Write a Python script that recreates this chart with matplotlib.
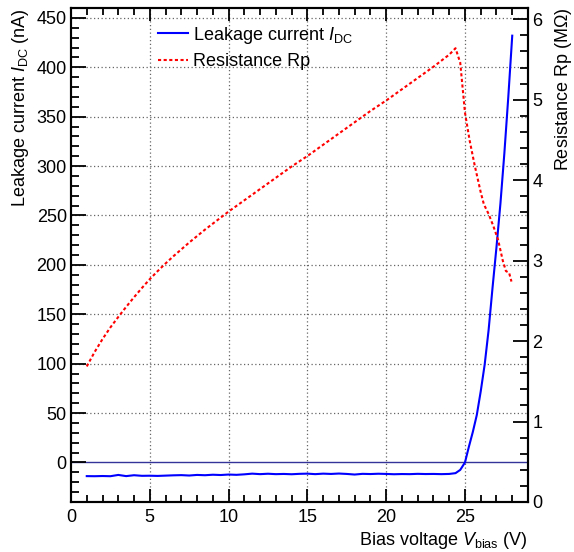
# -*- coding: utf-8 -*-
"""
Leakage current and parallel resistance vs. bias voltage (ROOT-like style).
"""

import matplotlib
matplotlib.use("Agg")
import matplotlib.pyplot as plt
from matplotlib.ticker import MultipleLocator

# leakage current I_DC (nA) vs bias voltage (V)
v_idc = [1.0, 1.5, 2.0, 2.5, 3.0, 3.5, 4.0, 4.5, 5.0, 5.5, 6.0, 6.5, 7.0, 7.5,
         8.0, 8.5, 9.0, 9.5, 10.0, 10.5, 11.0, 11.5, 12.0, 12.5, 13.0, 13.5,
         14.0, 14.5, 15.0, 15.5, 16.0, 16.5, 17.0, 17.5, 18.0, 18.5, 19.0,
         19.5, 20.0, 20.5, 21.0, 21.5, 22.0, 22.5, 23.0, 23.5, 24.0, 24.4,
         24.7, 25.0, 25.25, 25.5, 25.75, 26.0, 26.25, 26.5, 26.75, 27.0,
         27.25, 27.5, 27.75, 28.0]
idc = [-13.8, -13.9, -13.7, -13.9, -12.6, -13.8, -12.9, -13.5, -13.4, -13.6,
       -13.3, -13.0, -12.8, -13.2, -12.6, -12.9, -12.4, -12.7, -12.2, -12.5,
       -12.0, -11.3, -11.8, -11.4, -11.8, -11.6, -11.9, -11.5, -11.3, -11.8,
       -11.3, -11.6, -11.2, -11.6, -12.2, -11.5, -11.7, -11.4, -11.6, -11.9,
       -11.7, -11.8, -11.5, -11.7, -11.6, -11.8, -11.6, -10.8,
       -7.5, 0.0, 16, 31, 48, 72, 99, 134, 177, 218, 262, 313, 370, 432]

# parallel resistance Rp (MOhm) vs bias voltage (V)
v_rp = [1.0, 1.5, 2.0, 2.5, 3.0, 3.5, 4.0, 4.5, 5.0, 5.5, 6.0, 6.5, 7.0, 7.5,
        8.0, 8.5, 9.0, 9.5, 10.0, 11.0, 12.0, 13.0, 14.0, 15.0, 16.0, 17.0,
        18.0, 19.0, 20.0, 21.0, 22.0, 23.0, 24.0, 24.4, 24.7, 25.0, 25.3,
        25.6, 26.0, 26.2, 26.5, 26.8, 27.1, 27.4, 27.6, 27.8, 27.95]
rp = [1.685, 1.865, 2.025, 2.17, 2.30, 2.425, 2.545, 2.66, 2.77, 2.87, 2.965,
      3.055, 3.14, 3.225, 3.305, 3.385, 3.46, 3.535, 3.61, 3.75, 3.89, 4.03,
      4.17, 4.30, 4.44, 4.58, 4.72, 4.86, 4.99, 5.13, 5.27, 5.41, 5.56, 5.64,
      5.46, 4.84, 4.49, 4.20, 3.85, 3.70, 3.58, 3.43, 3.26, 3.00, 2.87, 2.85,
      2.74]

plt.rcParams['font.family'] = ['Liberation Sans', 'DejaVu Sans']
plt.rcParams['mathtext.fontset'] = 'custom'
plt.rcParams['mathtext.rm'] = 'Liberation Sans'
plt.rcParams['mathtext.it'] = 'Liberation Sans:italic'
plt.rcParams['font.size'] = 13


def plot_data(path="out.png"):
    fig = plt.figure(figsize=(5.74, 5.52), dpi=100)
    ax = fig.add_axes([71 / 574, 1 - 502 / 552, 457 / 574, 494 / 552])
    ax2 = ax.twinx()

    grid_ls = (0, (1, 2))
    for x in [5, 10, 15, 20, 25]:
        ax.axvline(x, color='#666666', lw=0.9, ls=grid_ls, zorder=0)
    for y in range(50, 451, 50):
        ax.axhline(y, color='#666666', lw=0.9, ls=grid_ls, zorder=0)
    ax.axhline(0, color='#333399', lw=1.0, zorder=1)

    l1, = ax.plot(v_idc, idc, color='#0000ff', lw=1.5, zorder=3,
                  label=r'Leakage current $I_{\rm DC}$')
    l2, = ax2.plot(v_rp, rp, color='#ff0000', lw=1.5, dashes=(1.5, 1.2),
                   label='Resistance Rp')

    ax.set_xlim(0, 29)
    ax.set_ylim(-40, 460)
    ax2.set_ylim(0, 6.14)

    ax.xaxis.set_major_locator(MultipleLocator(5))
    ax.xaxis.set_minor_locator(MultipleLocator(1))
    ax.yaxis.set_major_locator(MultipleLocator(50))
    ax.yaxis.set_minor_locator(MultipleLocator(10))
    ax2.yaxis.set_major_locator(MultipleLocator(1))
    ax2.yaxis.set_minor_locator(MultipleLocator(0.2))

    ax.tick_params(axis='x', which='both', direction='in', top=True,
                   width=1.3, pad=5, labelsize=13)
    ax.tick_params(axis='x', which='major', length=9.5)
    ax.tick_params(axis='x', which='minor', length=5)
    ax.tick_params(axis='y', which='both', direction='in', right=False,
                   width=1.3, pad=3, labelsize=13)
    ax.tick_params(axis='y', which='major', length=11)
    ax.tick_params(axis='y', which='minor', length=5.5)
    ax2.tick_params(axis='y', which='both', direction='in', width=1.3,
                    pad=3, labelsize=13)
    ax2.tick_params(axis='y', which='major', length=11)
    ax2.tick_params(axis='y', which='minor', length=5.5)

    for a in (ax, ax2):
        for s in a.spines.values():
            s.set_linewidth(1.5)

    ax.set_xlabel(r'Bias voltage $V_{\rm bias}$ (V)', loc='right', fontsize=13,
                  labelpad=3)
    ax.set_ylabel(r'Leakage current $I_{\rm DC}$ (nA)', loc='top', fontsize=13,
                  labelpad=4)
    ax2.set_ylabel(r'Resistance Rp (M$\Omega$)', loc='top', fontsize=13,
                   labelpad=8)

    ax2.legend(handles=[l1, l2], loc='upper left', frameon=False,
               bbox_to_anchor=(0.19, 0.966), handlelength=1.65,
               handletextpad=0.3, labelspacing=0.42, fontsize=13,
               borderaxespad=0, borderpad=0)

    fig.savefig(path, dpi=100)


plot_data()
